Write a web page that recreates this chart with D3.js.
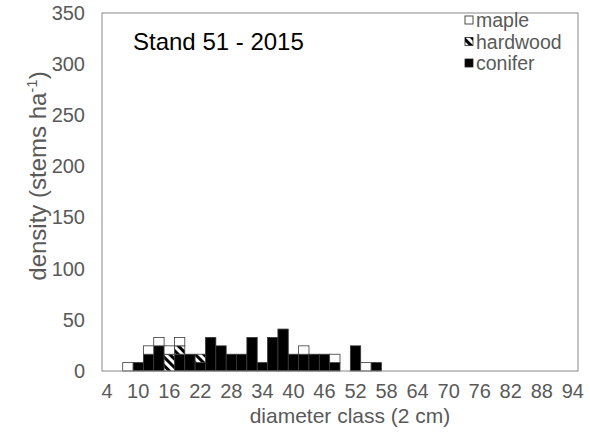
<!DOCTYPE html>
<html>
<head>
<meta charset="utf-8">
<script src="https://cdn.jsdelivr.net/npm/d3@7"></script>
<style>
  body { margin: 0; background: #fff; }
  svg text { font-family: "Liberation Sans", Arial, sans-serif; fill: #595959; }
</style>
</head>
<body>
<script>
// diameter classes (2 cm)
var classes = [4, 6, 8, 10, 12, 14, 16, 18, 20, 22, 24, 26, 28, 30, 32, 34, 36, 38, 40, 42, 44, 46,
               48, 50, 52, 54, 56, 58, 60, 62, 64, 66, 68, 70, 72, 74, 76, 78, 80, 82, 84, 86, 88, 90, 92, 94];
var tickClasses = [4, 10, 16, 22, 28, 34, 40, 46, 52, 58, 64, 70, 76, 82, 88, 94];
var yTicks = [0, 50, 100, 150, 200, 250, 300, 350];

// stems per ha, by class
var conifer = [0, 0, 0, 8.2, 16.4, 24.6, 0, 16.4, 16.4, 8.2, 32.8, 24.6, 16.4, 16.4, 32.8, 8.2, 32.8, 41, 16.4, 16.4, 16.4, 16.4,
               8.2, 0, 24.6, 0, 8.2, 0, 0, 0, 0, 0, 0, 0, 0, 0, 0, 0, 0, 0, 0, 0, 0, 0, 0, 0];
var hardwood = [0, 0, 0, 0, 0, 0, 16.4, 8.2, 0, 8.2, 0, 0, 0, 0, 0, 0, 0, 0, 0, 0, 0, 0,
                0, 0, 0, 0, 0, 0, 0, 0, 0, 0, 0, 0, 0, 0, 0, 0, 0, 0, 0, 0, 0, 0, 0, 0];
var maple = [0, 0, 8.2, 0, 8.2, 8.2, 8.2, 8.2, 0, 0, 0, 0, 0, 0, 0, 0, 0, 0, 0, 8.2, 0, 0,
             8.2, 0, 0, 8.2, 0, 0, 0, 0, 0, 0, 0, 0, 0, 0, 0, 0, 0, 0, 0, 0, 0, 0, 0, 0];
var seriesNames = ["conifer", "hardwood", "maple"];

var W = 590, H = 442;
var margin = { left: 102, right: 12, top: 13, bottom: 71 };

var rows = classes.map(function(c, i) {
    return { cls: c, conifer: conifer[i], hardwood: hardwood[i], maple: maple[i] };
});

var svg = d3.select("body").append("svg")
    .attr("width", W)
    .attr("height", H);

var defs = svg.append("defs");
var pat = defs.append("pattern")
    .attr("id", "hatch")
    .attr("patternUnits", "userSpaceOnUse")
    .attr("width", 6)
    .attr("height", 6)
    .attr("patternTransform", "rotate(-45)");
pat.append("rect").attr("width", 6).attr("height", 6).attr("fill", "#fff");
pat.append("rect").attr("width", 3).attr("height", 6).attr("fill", "#000");

var fills = { conifer: "#000", hardwood: "url(#hatch)", maple: "#fff" };

var x = d3.scaleBand()
    .domain(classes)
    .range([margin.left, W - margin.right])
    .padding(0);

var y = d3.scaleLinear()
    .domain([0, 350])
    .range([H - margin.bottom, margin.top]);

var stacked = d3.stack().keys(seriesNames)(rows);

// bars
svg.append("g").attr("class", "bars")
    .selectAll("g")
    .data(stacked)
    .enter()
    .append("g")
    .attr("fill", function(d) { return fills[d.key]; })
    .selectAll("rect")
    .data(function(d) { return d.filter(function(p) { return p[1] - p[0] > 0; }); })
    .enter()
    .append("rect")
    .attr("x", function(d) { return x(d.data.cls); })
    .attr("y", function(d) { return y(d[1]); })
    .attr("width", x.bandwidth())
    .attr("height", function(d) { return y(d[0]) - y(d[1]); })
    .attr("stroke", "#3a3a3a")
    .attr("stroke-width", 0.8);

// plot border
svg.append("rect")
    .attr("x", margin.left)
    .attr("y", margin.top)
    .attr("width", W - margin.left - margin.right)
    .attr("height", H - margin.top - margin.bottom)
    .attr("fill", "none")
    .attr("stroke", "#898989")
    .attr("stroke-width", 1);

// axes
var xAxis = d3.axisBottom(x).tickValues(tickClasses).tickSize(0).tickPadding(13);
var gx = svg.append("g")
    .attr("transform", "translate(0," + (H - margin.bottom) + ")")
    .call(xAxis);
gx.select(".domain").remove();
gx.selectAll("text").attr("font-size", 20).style("font-family", null);

var yAxis = d3.axisLeft(y).tickValues(yTicks).tickSize(0).tickPadding(17);
var gy = svg.append("g")
    .attr("transform", "translate(" + margin.left + ",0)")
    .call(yAxis);
gy.select(".domain").remove();
gy.selectAll("text").attr("font-size", 20).style("font-family", null);

// axis titles
svg.append("text")
    .attr("x", 350)
    .attr("y", 423)
    .attr("text-anchor", "middle")
    .attr("font-size", 21)
    .text("diameter class (2 cm)");

var yt = svg.append("text")
    .attr("transform", "translate(46,176) rotate(-90)")
    .attr("text-anchor", "middle")
    .attr("font-size", 24);
yt.append("tspan").text("density (stems ha");
yt.append("tspan").attr("font-size", 15).attr("dy", -9).text("-1");
yt.append("tspan").attr("dy", 9).text(")");

// chart title
svg.append("text")
    .attr("x", 133)
    .attr("y", 50)
    .attr("font-size", 24)
    .style("fill", "#000")
    .text("Stand 51 - 2015");

// legend (top first)
var legendItems = seriesNames.slice().reverse();
var lg = svg.append("g").selectAll("g")
    .data(legendItems)
    .enter()
    .append("g")
    .attr("transform", function(d, i) { return "translate(465," + (20 + i * 21.5) + ")"; });
lg.append("rect")
    .attr("x", 0)
    .attr("y", -4)
    .attr("width", 8)
    .attr("height", 8)
    .attr("fill", function(d) { return fills[d]; })
    .attr("stroke", "#222")
    .attr("stroke-width", 0.8);
lg.append("text")
    .attr("x", 11)
    .attr("y", 7)
    .attr("font-size", 19.5)
    .text(function(d) { return d; });
</script>
</body>
</html>
